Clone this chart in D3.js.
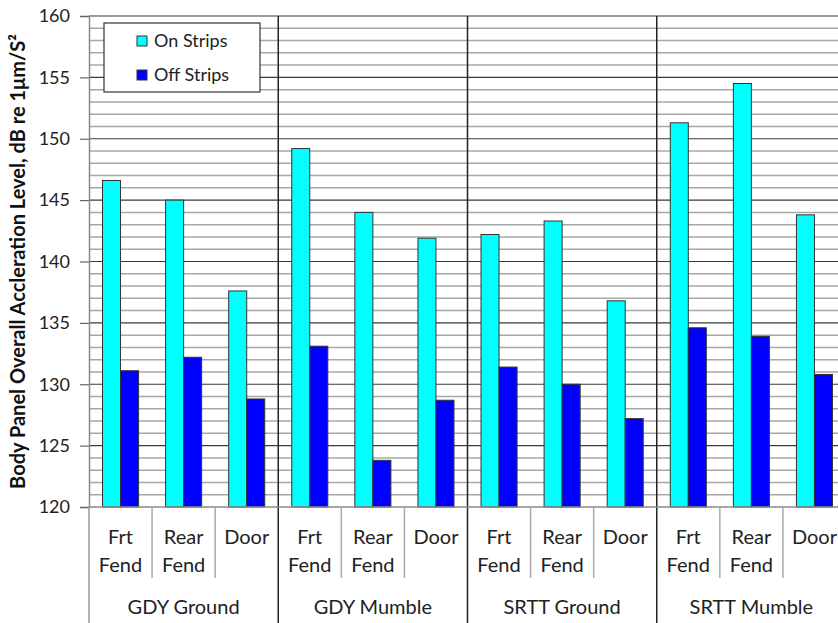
<!DOCTYPE html>
<html>
<head>
<meta charset="utf-8">
<script src="https://cdn.jsdelivr.net/npm/d3@7"></script>
<style>
  html, body { margin: 0; padding: 0; background: #fff; }
  svg { display: block; font-family: Lato, "Open Sans", sans-serif; }
</style>
</head>
<body>
<svg id="chart" width="838" height="623"></svg>
<script>
// Test conditions (outer grouping) and panel locations (inner grouping)
const groups = ["GDY Ground", "GDY Mumble", "SRTT Ground", "SRTT Mumble"];
const panels = [["Frt", "Fend"], ["Rear", "Fend"], ["Door"]];
const panelKeys = ["Frt Fend", "Rear Fend", "Door"];
const seriesNames = ["On Strips", "Off Strips"];
const seriesColors = ["#00ffff", "#0000ff"];

// Overall acceleration level, dB, one value per group × panel
const onStrips = [146.6, 145.0, 137.6, 149.2, 144.0, 141.9, 142.2, 143.3, 136.8, 151.3, 154.5, 143.8];
const offStrips = [131.1, 132.2, 128.8, 133.1, 123.8, 128.7, 131.4, 130.0, 127.2, 134.6, 133.9, 130.8];

const yTicks = [120, 125, 130, 135, 140, 145, 150, 155, 160];
const yTitle = "Body Panel Overall Accleration Level, dB re 1μm/S²";

const svg = d3.select("#chart");
const plotL = 89, plotR = 846, plotT = 16, plotB = 507;

const y = d3.scaleLinear().domain([120, 160]).range([plotB, plotT]);
const xGroup = d3.scaleBand().domain(groups).range([plotL, plotR]);
const xPanel = d3.scaleBand().domain(panelKeys).range([0, xGroup.bandwidth()]);
const xSeries = d3.scaleBand().domain(seriesNames).range([0, xPanel.bandwidth()])
  .paddingInner(0).paddingOuter(0.75);

// Horizontal gridlines: every 1 dB light, every 5 dB dark
const grid = svg.append("g");
d3.range(121, 160).filter(v => v % 5 !== 0).forEach(v => {
  grid.append("line").attr("x1", plotL).attr("x2", plotR)
    .attr("y1", y(v)).attr("y2", y(v))
    .attr("stroke", "#a8a8a8").attr("stroke-width", 1.5);
});
yTicks.filter(v => v > 120).forEach(v => {
  grid.append("line").attr("x1", plotL).attr("x2", plotR)
    .attr("y1", y(v)).attr("y2", y(v))
    .attr("stroke", "#3a3a3a").attr("stroke-width", 1.2);
});

// Dark separators between test conditions, through the plot and the label area
groups.slice(1).forEach(g => {
  svg.append("line").attr("x1", xGroup(g)).attr("x2", xGroup(g))
    .attr("y1", plotT).attr("y2", 623)
    .attr("stroke", "#222").attr("stroke-width", 1.5);
});

// Bars
const rows = [];
groups.forEach((g, gi) => panelKeys.forEach((p, pi) => {
  rows.push({ g, p, s: 0, v: onStrips[gi * 3 + pi] });
  rows.push({ g, p, s: 1, v: offStrips[gi * 3 + pi] });
}));
svg.append("g").selectAll("rect").data(rows).join("rect")
  .attr("x", d => xGroup(d.g) + xPanel(d.p) + xSeries(seriesNames[d.s]))
  .attr("width", xSeries.bandwidth())
  .attr("y", d => y(d.v))
  .attr("height", d => y(120) - y(d.v))
  .attr("fill", d => seriesColors[d.s])
  .attr("stroke", "#333").attr("stroke-width", 1);

// Y axis
const yAxis = d3.axisLeft(y).tickValues(yTicks).tickSize(9).tickPadding(10);
const ya = svg.append("g").attr("transform", `translate(${plotL},0)`).call(yAxis);
ya.select(".domain").attr("stroke", "#888").attr("stroke-width", 1.5);
ya.selectAll(".tick line").attr("stroke", "#666").attr("stroke-width", 1.2);
ya.selectAll(".tick text").attr("font-size", 18).attr("fill", "#222")
  .attr("font-family", "Lato, sans-serif");

// X axis baseline
svg.append("line").attr("x1", plotL).attr("x2", plotR).attr("y1", plotB).attr("y2", plotB)
  .attr("stroke", "#888").attr("stroke-width", 1.5);
svg.append("line").attr("x1", plotL).attr("x2", plotL).attr("y1", plotB).attr("y2", 623)
  .attr("stroke", "#999").attr("stroke-width", 1.5);

// Panel separators and labels
groups.forEach(g => {
  panelKeys.forEach((p, pi) => {
    if (pi > 0) {
      svg.append("line")
        .attr("x1", xGroup(g) + xPanel(p)).attr("x2", xGroup(g) + xPanel(p))
        .attr("y1", plotB).attr("y2", 578)
        .attr("stroke", "#aaa").attr("stroke-width", 1.5);
    }
    const cx = xGroup(g) + xPanel(p) + xPanel.bandwidth() / 2;
    const t = svg.append("text").attr("text-anchor", "middle")
      .attr("font-size", 20).attr("fill", "#222");
    panels[pi].forEach((line, li) => {
      t.append("tspan").attr("x", cx).attr("y", 544 + li * 28).text(line);
    });
  });
  svg.append("text").attr("text-anchor", "middle")
    .attr("x", xGroup(g) + xGroup.bandwidth() / 2).attr("y", 614)
    .attr("font-size", 20).attr("fill", "#222").text(g);
});

// Y title
svg.append("text")
  .attr("transform", `translate(25,${(plotT + plotB) / 2}) rotate(-90)`)
  .attr("text-anchor", "middle").attr("font-weight", "bold")
  .attr("font-size", 20).attr("fill", "#111").text(yTitle);

// Legend
const lg = svg.append("g");
lg.append("rect").attr("x", 104).attr("y", 23).attr("width", 156).attr("height", 69)
  .attr("fill", "#fff").attr("stroke", "#333").attr("stroke-width", 1.2);
seriesNames.forEach((s, i) => {
  const cy = 41 + i * 34;
  lg.append("rect").attr("x", 137).attr("y", cy - 5).attr("width", 10).attr("height", 10)
    .attr("fill", seriesColors[i]).attr("stroke", "#333").attr("stroke-width", 1);
  lg.append("text").attr("x", 154).attr("y", cy + 6)
    .attr("font-size", 18).attr("fill", "#222").text(s);
});
</script>
</body>
</html>
